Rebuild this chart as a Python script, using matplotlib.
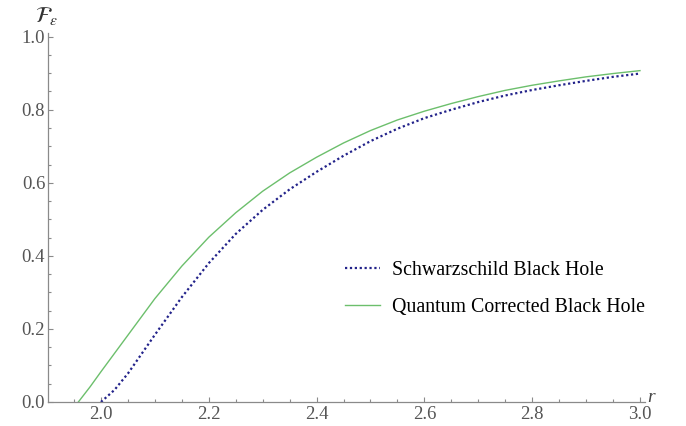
import numpy as np
import matplotlib.pyplot as plt
from matplotlib.ticker import MultipleLocator

# values
r_schw = [2.000, 2.025, 2.05, 2.075, 2.10, 2.15, 2.20, 2.25, 2.30, 2.35, 2.40, 2.45,
          2.50, 2.55, 2.60, 2.65, 2.70, 2.75, 2.80, 2.85, 2.90, 2.95, 3.00]
f_schw = [0.000, 0.033, 0.078, 0.131, 0.184, 0.287, 0.380, 0.460, 0.526, 0.582, 0.630, 0.674,
          0.714, 0.748, 0.777, 0.800, 0.821, 0.839, 0.854, 0.867, 0.879, 0.890, 0.899]

r_qc = [1.958, 1.98, 2.00, 2.05, 2.10, 2.15, 2.20, 2.25, 2.30, 2.35, 2.40, 2.45,
        2.50, 2.55, 2.60, 2.65, 2.70, 2.75, 2.80, 2.85, 2.90, 2.95, 3.00]
f_qc = [0.000, 0.042, 0.083, 0.183, 0.283, 0.372, 0.451, 0.518, 0.577, 0.627, 0.670, 0.709,
        0.743, 0.772, 0.796, 0.817, 0.836, 0.853, 0.867, 0.879, 0.890, 0.899, 0.907]

labels = ['Schwarzschild Black Hole', 'Quantum Corrected Black Hole']

plt.rcParams['font.family'] = ['Liberation Serif', 'DejaVu Serif']
plt.rcParams['mathtext.fontset'] = 'stix'

fig = plt.figure(figsize=(6.86, 4.26), dpi=100)
ax = fig.add_axes([48 / 686, 24 / 426, 597 / 686, 369 / 426])

ax.plot(r_schw, f_schw, color='#22228a', lw=1.6, linestyle=(0, (1, 1.2)),
        label=labels[0])
ax.plot(r_qc, f_qc, color='#6cbf6c', lw=1.0, label=labels[1])

ax.set_xlim(1.9017, 3.0093)
ax.set_ylim(0, 1.01)

for s in ['top', 'right']:
    ax.spines[s].set_visible(False)
for s in ['left', 'bottom']:
    ax.spines[s].set_color('#8a8a8a')
    ax.spines[s].set_linewidth(0.9)

ax.xaxis.set_minor_locator(MultipleLocator(0.05))
ax.yaxis.set_minor_locator(MultipleLocator(0.05))
ax.set_xticks([2.0, 2.2, 2.4, 2.6, 2.8, 3.0])
ax.set_yticks([0.0, 0.2, 0.4, 0.6, 0.8, 1.0])
ax.tick_params(which='both', direction='in', color='#8a8a8a', labelcolor='#555555',
               labelsize=13.5, width=0.8)
ax.tick_params(which='major', length=3.5, pad=2)
ax.tick_params(which='minor', length=2)
ax.tick_params(axis='x', pad=3)

fig.text(47 / 686, 1 - 16 / 426, r'$\mathcal{F}_\varepsilon$', fontsize=16,
         ha='center', va='center', color='#333333')
fig.text(651 / 686, 1 - 398 / 426, 'r', fontsize=14, style='italic',
         ha='center', va='center', color='#444444')

ax.legend(loc='upper left', bbox_to_anchor=(345 / 686, 1 - 261 / 426),
          bbox_transform=fig.transFigure, frameon=False, fontsize=14.3,
          borderpad=0, borderaxespad=0, handlelength=1.76, handletextpad=0.6,
          labelspacing=0.9)

fig.savefig('out.png', dpi=100)
